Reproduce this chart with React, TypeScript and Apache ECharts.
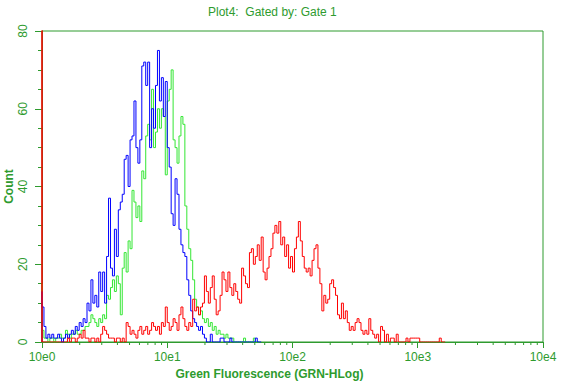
import React, { useEffect, useRef } from 'react';
import * as echarts from 'echarts';

// 256 log channels spread over 4 decades
const CHANNELS_PER_DECADE = 64;

const blueCounts = [
  13, 9, 4, 1, 2, 1, 2, 1, 1, 2,
  1, 0, 1, 2, 1, 2, 3, 2, 4, 3,
  5, 4, 6, 5, 10, 8, 16, 10, 12, 9,
  18, 13, 18, 10, 22, 37, 19, 17, 29, 22,
  34, 36, 38, 47, 48, 40, 52, 53, 62, 50,
  46, 52, 71, 72, 66, 72, 50, 60, 55, 66,
  75, 62, 68, 58, 67, 50, 45, 33, 30, 42,
  38, 29, 25, 23, 22, 16, 12, 8, 6, 5,
  4, 3, 4, 2, 1, 0, 0, 2, 0, 0,
  0, 0, 1, 1, 0, 0, 0, 1, 0, 0,
  0, 0, 0, 0, 0, 0, 0, 0, 0, 0,
  1, 0,
];

const greenCounts = [
  15, 3, 1, 1, 0, 1, 1, 0, 1, 1,
  2, 1, 1, 3, 2, 1, 2, 2, 3, 2,
  2, 3, 3, 4, 4, 5, 7, 6, 5, 4,
  6, 5, 7, 6, 12, 11, 14, 16, 13, 17,
  15, 7, 19, 23, 18, 26, 24, 39, 36, 32,
  35, 31, 44, 42, 53, 56, 52, 65, 50, 54,
  60, 55, 60, 58, 43, 62, 65, 70, 52, 50,
  46, 53, 58, 56, 35, 29, 24, 21, 16, 11,
  9, 7, 8, 6, 5, 6, 4, 5, 3, 4,
  2, 3, 2, 2, 1, 2, 1, 1, 1, 0,
  0, 0, 0, 0, 1, 0, 0, 0, 0, 1,
  0,
];

const redCounts = [
  200, 0, 0, 0, 0, 0, 0, 0, 0, 0,
  0, 0, 0, 0, 1, 0, 1, 1, 0, 1,
  2, 1, 3, 1, 1, 0, 1, 1, 0, 1,
  0, 2, 4, 3, 2, 1, 1, 1, 0, 1,
  1, 0, 1, 0, 5, 4, 2, 3, 2, 1,
  3, 4, 2, 3, 4, 2, 3, 5, 4, 3,
  4, 2, 5, 4, 9, 5, 3, 4, 6, 5,
  3, 7, 9, 6, 4, 3, 5, 4, 11, 8,
  9, 7, 9, 10, 17, 13, 10, 14, 17, 11,
  7, 8, 12, 18, 16, 13, 18, 14, 12, 15,
  13, 11, 10, 19, 17, 15, 14, 23, 24, 20,
  22, 25, 21, 27, 18, 16, 19, 22, 24, 28,
  30, 28, 31, 25, 27, 22, 25, 19, 22, 18,
  24, 27, 31, 26, 22, 19, 18, 19, 17, 21,
  24, 25, 19, 15, 8, 12, 10, 11, 15, 16,
  14, 12, 7, 6, 10, 6, 8, 5, 3, 4,
  3, 5, 6, 5, 3, 2, 3, 2, 6, 3,
  2, 1, 2, 0, 4, 3, 0, 2, 0, 1,
  1, 0, 2, 0, 0, 0, 0, 1, 0, 1,
  1, 1, 1, 1, 0, 0, 0, 0, 0, 0,
  0, 0, 0, 0, 1, 0,
];

const xTickLabels = ['10e0', '10e1', '10e2', '10e3', '10e4'];
const xDecades = [1, 10, 100, 1000, 10000];
const minorMultipliers = [2, 3, 4, 5, 6, 7, 8, 9];

const AXIS_GREEN = '#2e9b2e';
const FONT = '"Liberation Sans", Arial, sans-serif';

// channel i is drawn up to its edge at 10^(i/64); channel 0 sits on the axis
function toSteps(counts: number[]) {
  const pts: [number, number][] = [[1, 0]];
  counts.forEach((c, i) => {
    pts.push([Math.pow(10, i / CHANNELS_PER_DECADE), c]);
  });
  pts.push([Math.pow(10, counts.length / CHANNELS_PER_DECADE), 0]);
  return pts;
}

export default function App() {
  const ref = useRef<HTMLDivElement>(null);

  useEffect(() => {
    if (!ref.current) return;
    const chart = echarts.init(ref.current, null, { renderer: 'svg' });

    const minorTicks: number[][] = [];
    for (let d = 0; d < xDecades.length - 1; d++) {
      for (const m of minorMultipliers) minorTicks.push([xDecades[d] * m, 0]);
    }

    const lineSeries = (name: string, counts: number[], color: string) => ({
      name,
      type: 'line',
      data: toSteps(counts),
      step: 'start',
      symbol: 'none',
      clip: true,
      lineStyle: { color, width: 1 },
      itemStyle: { color },
      silent: true,
      z: 5,
    });

    chart.setOption({
      animation: false,
      backgroundColor: '#ffffff',
      title: {
        text: 'Plot4:  Gated by: Gate 1',
        left: 208,
        top: 6,
        padding: 0,
        textStyle: {
          color: AXIS_GREEN,
          fontSize: 12,
          fontWeight: 'normal',
          fontFamily: FONT,
        },
      },
      grid: {
        left: 42,
        right: 26,
        top: 31,
        bottom: 42,
        containLabel: false,
        outerBoundsMode: 'none',
        show: true,
        borderColor: AXIS_GREEN,
        borderWidth: 1,
        backgroundColor: 'transparent',
      },
      xAxis: {
        type: 'log',
        logBase: 10,
        min: 1,
        max: 10000,
        splitNumber: 4,
        name: 'Green Fluorescence (GRN-HLog)',
        nameLocation: 'middle',
        nameGap: 24,
        nameTextStyle: {
          color: AXIS_GREEN,
          fontSize: 12,
          fontWeight: 'bold',
          fontFamily: FONT,
          padding: [0, 46, 0, 0],
        },
        axisLine: { show: true, lineStyle: { color: AXIS_GREEN, width: 1 } },
        axisTick: { show: true, length: 6, lineStyle: { color: AXIS_GREEN } },
        minorTick: { show: false },
        splitLine: { show: false },
        axisLabel: {
          color: AXIS_GREEN,
          fontSize: 12,
          fontFamily: FONT,
          margin: 9,
          formatter: (v: number) => xTickLabels[Math.round(Math.log10(v))] ?? '',
        },
      },
      yAxis: {
        type: 'value',
        min: 0,
        max: 80,
        interval: 20,
        name: 'Count',
        nameLocation: 'middle',
        nameRotate: 90,
        nameGap: 27,
        nameMoveOverlap: false,
        nameTextStyle: {
          color: AXIS_GREEN,
          fontSize: 12,
          fontWeight: 'bold',
          fontFamily: FONT,
        },
        axisLine: { show: true, lineStyle: { color: AXIS_GREEN, width: 1 } },
        axisTick: { show: true, length: 7, lineStyle: { color: AXIS_GREEN } },
        minorTick: { show: true, splitNumber: 4, length: 4, lineStyle: { color: AXIS_GREEN } },
        splitLine: { show: false },
        axisLabel: {
          color: AXIS_GREEN,
          fontSize: 12,
          fontFamily: FONT,
          rotate: 90,
          margin: 13,
        },
      },
      series: [
        lineSeries('Green', greenCounts, '#33e633'),
        lineSeries('Blue', blueCounts, '#0000ff'),
        lineSeries('Red', redCounts, '#ff0000'),
        {
          type: 'custom',
          silent: true,
          data: minorTicks,
          z: 6,
          renderItem: (_params: any, api: any) => {
            const p = api.coord([api.value(0), api.value(1)]);
            return {
              type: 'line',
              shape: { x1: p[0], y1: p[1], x2: p[0], y2: p[1] + 3 },
              style: { stroke: AXIS_GREEN, lineWidth: 1 },
            };
          },
        },
      ],
    });

    return () => chart.dispose();
  }, []);

  return <div ref={ref} style={{ width: 569, height: 384, position: 'absolute', left: 0, top: 0 }} />;
}
